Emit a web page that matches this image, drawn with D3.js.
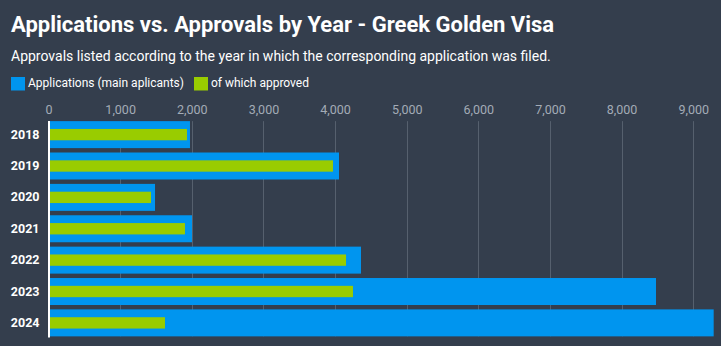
<!DOCTYPE html>
<html>
<head>
<meta charset="utf-8">
<script src="https://cdn.jsdelivr.net/npm/d3@7"></script>
<style>
  html, body { margin: 0; padding: 0; background: #343e4d; }
  svg { display: block; font-family: Roboto, "Noto Sans", sans-serif; }
</style>
</head>
<body>
<svg id="chart" width="721" height="346"></svg>
<script>
// Greek Golden Visa: main applications per year and how many of them were approved
const years = ["2018", "2019", "2020", "2021", "2022", "2023", "2024"];
const applications = [1975, 4055, 1487, 2003, 4362, 8480, 9285];
const approved = [1933, 3971, 1431, 1905, 4153, 4250, 1626];
const xTicks = [0, 1000, 2000, 3000, 4000, 5000, 6000, 7000, 8000, 9000];
const seriesNames = ["Applications (main aplicants)", "of which approved"];
const colors = ["#0095ef", "#99cc00"];

const W = 721, H = 346;
const margin = { left: 48.5, right: 0, top: 120.5, bottom: 9 };

const svg = d3.select("#chart");
svg.append("rect").attr("width", W).attr("height", H).attr("fill", "#343e4d");

// Title and subtitle
svg.append("text").attr("x", 11).attr("y", 31.5)
  .attr("fill", "#ffffff").attr("font-size", 22).attr("font-weight", 700)
  .text("Applications vs. Approvals by Year - Greek Golden Visa");
svg.append("text").attr("x", 11).attr("y", 61)
  .attr("fill", "#ffffff").attr("font-size", 14)
  .text("Approvals listed according to the year in which the corresponding application was filed.");

// Legend
const legend = svg.append("g");
const legendItems = [{ x: 11, tx: 28 }, { x: 194, tx: 211 }];
seriesNames.forEach((name, i) => {
  legend.append("rect").attr("x", legendItems[i].x).attr("y", 77)
    .attr("width", 14).attr("height", 13.5).attr("fill", colors[i]);
  legend.append("text").attr("x", legendItems[i].tx).attr("y", 87)
    .attr("fill", "#ffffff").attr("font-size", 12)
    .text(name);
});

// Scales
const x = d3.scaleLinear().domain([0, 9000])
  .range([margin.left, margin.left + 9 * 71.64]);
const y = d3.scaleBand().domain(years)
  .range([margin.top, H - margin.bottom])
  .paddingInner(0.14).paddingOuter(0.02);

// Grid lines
const grid = svg.append("g");
grid.selectAll("line").data(xTicks.slice(1)).join("line")
  .attr("x1", d => Math.round(x(d)) + 0.5).attr("x2", d => Math.round(x(d)) + 0.5)
  .attr("y1", y(years[0])).attr("y2", y(years[years.length - 1]) + y.bandwidth())
  .attr("stroke", "#56606e").attr("stroke-width", 1);

// Top axis tick labels
const xAxis = d3.axisTop(x).tickValues(xTicks).tickSize(0).tickPadding(0)
  .tickFormat(d3.format(","));
const gx = svg.append("g").attr("transform", `translate(0,${114})`).call(xAxis);
gx.select(".domain").remove();
gx.selectAll("text").attr("fill", "#a3abb6").attr("font-size", 12.5)
  .attr("font-family", "Roboto, sans-serif").attr("dy", 0);

// Applications bars
svg.append("g").selectAll("rect").data(years).join("rect")
  .attr("x", x(0)).attr("y", d => y(d))
  .attr("width", (d, i) => x(applications[i]) - x(0))
  .attr("height", y.bandwidth())
  .attr("fill", colors[0]);

// Approved bars, drawn inside the application bars
const innerH = y.bandwidth() * 0.42;
svg.append("g").selectAll("rect").data(years).join("rect")
  .attr("x", x(0)).attr("y", d => y(d) + (y.bandwidth() - innerH) / 2)
  .attr("width", (d, i) => x(approved[i]) - x(0))
  .attr("height", innerH)
  .attr("fill", colors[1]);

// Category axis line and year labels
const yAxis = d3.axisLeft(y).tickSize(0).tickPadding(9);
const gy = svg.append("g").attr("transform", `translate(${x(0)},0)`).call(yAxis);
gy.select(".domain").attr("stroke", "#ffffff").attr("stroke-width", 2);
gy.selectAll("text").attr("fill", "#ffffff").attr("font-size", 12.5)
  .attr("font-weight", 700).attr("font-family", "Roboto, sans-serif");
</script>
</body>
</html>
